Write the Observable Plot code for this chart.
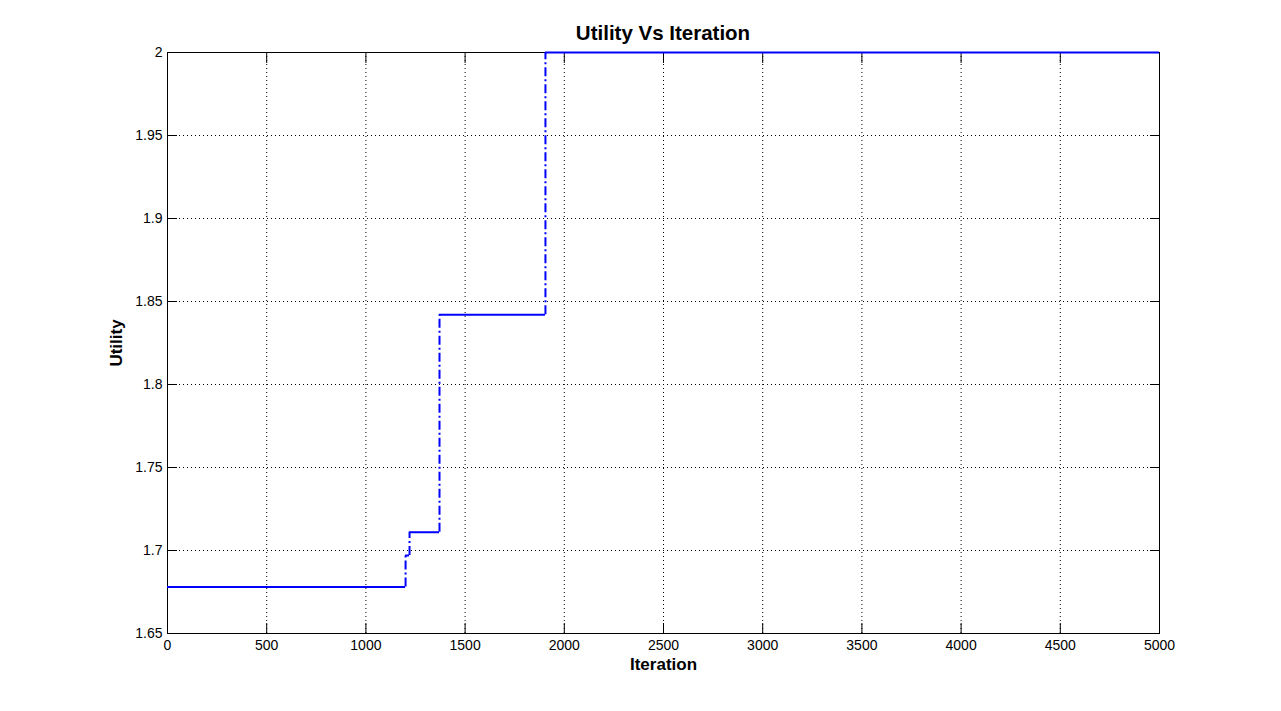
<!DOCTYPE html>
<html>
<head>
<meta charset="utf-8">
<script src="https://cdn.jsdelivr.net/npm/d3@7"></script>
<script src="https://cdn.jsdelivr.net/npm/@observablehq/plot@0.6"></script>
<style>
  html, body { margin: 0; padding: 0; background: #fff; }
  #title { box-sizing: border-box; width: 1281px; height: 44px; padding-left: 167px; padding-right: 122px;
    text-align: center; font: bold 20.5px "Liberation Sans", Arial, sans-serif; line-height: 20px; padding-top: 23px; color: #000; }
  svg { display: block; }
</style>
</head>
<body>
<div id="title">Utility Vs Iteration</div>
<div id="chart"></div>
<script>
// Step change points (iteration) and utility level held from each point
const stepIterations = [0, 1200, 1220, 1371, 1905, 5000];
const stepUtility = [1.678, 1.697, 1.711, 1.842, 2.0];
const xTicks = [0, 500, 1000, 1500, 2000, 2500, 3000, 3500, 4000, 4500, 5000];
const yTicks = [1.65, 1.7, 1.75, 1.8, 1.85, 1.9, 1.95, 2];
const xLabel = "Iteration";
const yLabel = "Utility";

const horizontal = stepUtility.map((u, i) => ({x1: stepIterations[i], x2: stepIterations[i + 1], y: u}));
const vertical = stepUtility.slice(1).map((u, i) => ({x: stepIterations[i + 1], y1: stepUtility[i], y2: u}));

const font = "'Liberation Sans', Arial, sans-serif";
const yFmt = d => String(+d.toFixed(2));

const chart = Plot.plot({
  width: 1281,
  height: 667,
  marginTop: 8,
  marginBottom: 78,
  marginLeft: 167,
  marginRight: 122,
  style: {fontFamily: font, fontSize: "14px", color: "#000", background: "#fff"},
  x: {domain: [0, 5000]},
  y: {domain: [1.65, 2]},
  marks: [
    Plot.gridX(xTicks, {stroke: "#000", strokeOpacity: 1, strokeDasharray: "1,3"}),
    Plot.gridY(yTicks, {stroke: "#000", strokeOpacity: 1, strokeDasharray: "1,3"}),
    Plot.axisX(xTicks, {anchor: "bottom", tickSize: 0, tickPadding: 7, tickFormat: "d", label: null, fontSize: 14}),
    Plot.axisY(yTicks, {anchor: "left", tickSize: 0, tickPadding: 5, tickFormat: yFmt, label: null, fontSize: 14}),
    Plot.axisX(xTicks, {anchor: "bottom", tickSize: -10, tickFormat: () => "", label: null}),
    Plot.axisX(xTicks, {anchor: "top", tickSize: -10, tickFormat: () => "", label: null}),
    Plot.axisY(yTicks, {anchor: "left", tickSize: -10, tickFormat: () => "", label: null}),
    Plot.axisY(yTicks, {anchor: "right", tickSize: -10, tickFormat: () => "", label: null}),
    Plot.frame({stroke: "#000", strokeWidth: 1}),
    Plot.ruleY(horizontal, {x1: "x1", x2: "x2", y: "y", stroke: "#0000ff", strokeWidth: 2}),
    Plot.ruleX(vertical, {x: "x", y1: "y1", y2: "y2", stroke: "#0000ff", strokeWidth: 2, strokeDasharray: "9,3,2,3"}),
    Plot.text([xLabel], {frameAnchor: "bottom", dy: 36, text: d => d, fontWeight: "bold", fontSize: 17}),
    Plot.text([yLabel], {frameAnchor: "left", dx: -51, rotate: -90, textAnchor: "middle", text: d => d, fontWeight: "bold", fontSize: 17})
  ]
});
document.getElementById("chart").append(chart);
</script>
</body>
</html>
